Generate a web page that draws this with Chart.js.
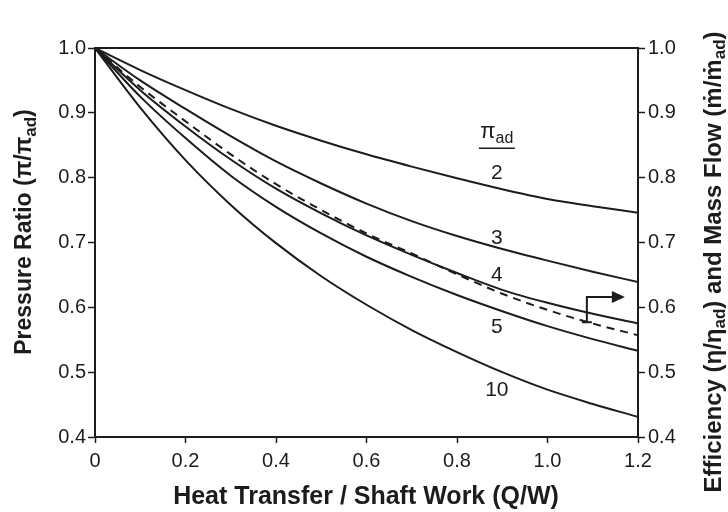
<!DOCTYPE html>
<html>
<head>
<meta charset="utf-8">
<script src="https://cdn.jsdelivr.net/npm/chart.js@4"></script>
<style>
  html, body { margin: 0; padding: 0; background: #fff; }
  #wrap { width: 728px; height: 512px; position: relative; }
</style>
</head>
<body>
<div id="wrap"><canvas id="heatChart"></canvas></div>
<script>
// Q/W values along the x axis
const qw = [0, 0.1, 0.2, 0.3, 0.4, 0.5, 0.6, 0.7, 0.8, 0.9, 1.0, 1.1, 1.2];

// pressure ratio pi/pi_ad for each adiabatic pressure ratio
const pr2  = [1.0, 0.966, 0.935, 0.906, 0.880, 0.857, 0.836, 0.817, 0.799, 0.782, 0.767, 0.756, 0.746];
const pr3  = [1.0, 0.950, 0.906, 0.864, 0.825, 0.791, 0.760, 0.733, 0.710, 0.690, 0.672, 0.655, 0.639];
const pr4  = [1.0, 0.935, 0.879, 0.828, 0.783, 0.745, 0.711, 0.681, 0.653, 0.627, 0.607, 0.590, 0.575];
const pr5  = [1.0, 0.925, 0.861, 0.803, 0.755, 0.714, 0.678, 0.647, 0.619, 0.594, 0.571, 0.551, 0.533];
const pr10 = [1.0, 0.908, 0.827, 0.758, 0.699, 0.648, 0.604, 0.565, 0.531, 0.500, 0.473, 0.451, 0.431];

// efficiency and mass flow ratio (dashed, right axis)
const effFlow = [1.0, 0.940, 0.887, 0.836, 0.790, 0.750, 0.714, 0.683, 0.651, 0.621, 0.596, 0.575, 0.557];

const piLabels = ['2', '3', '4', '5', '10'];
const xTicks = [0, 0.2, 0.4, 0.6, 0.8, 1.0, 1.2];
const yTicks = [0.4, 0.5, 0.6, 0.7, 0.8, 0.9, 1.0];

const FONT = '"Liberation Sans", Arial, Helvetica, sans-serif';
const INK = '#1c1c1c';

function pts(ys) { return qw.map((x, i) => ({ x: x, y: ys[i] })); }

function curve(label, ys, axis, dash) {
  return {
    label: label, data: pts(ys), yAxisID: axis,
    borderColor: INK, borderWidth: 2, borderDash: dash || [],
    pointRadius: 0, cubicInterpolationMode: 'monotone', fill: false,
  };
}

// text with subscripts: parts = [[text, isSub], ...]
function richWidth(ctx, parts, size, bold) {
  let w = 0;
  parts.forEach(p => {
    ctx.font = (bold ? 'bold ' : '') + (p[1] ? Math.round(size * 0.72) : size) + 'px ' + FONT;
    w += ctx.measureText(p[0]).width;
  });
  return w;
}
function richDraw(ctx, parts, size, cx, cy, bold) {
  const w = richWidth(ctx, parts, size, bold);
  let x = cx - w / 2;
  ctx.textBaseline = 'middle';
  ctx.textAlign = 'left';
  parts.forEach(p => {
    const s = p[1] ? Math.round(size * 0.72) : size;
    ctx.font = (bold ? 'bold ' : '') + s + 'px ' + FONT;
    ctx.fillText(p[0], x, p[1] ? cy + size * 0.28 : cy);
    x += ctx.measureText(p[0]).width;
  });
}

const decorations = {
  id: 'decorations',
  afterDraw(chart) {
    const ctx = chart.ctx;
    const a = chart.chartArea;
    const xs = chart.scales.x, ys = chart.scales.y;
    ctx.save();
    ctx.fillStyle = INK;
    ctx.strokeStyle = INK;

    // top frame line
    ctx.lineWidth = 2;
    ctx.beginPath();
    ctx.moveTo(a.left, a.top);
    ctx.lineTo(a.right, a.top);
    ctx.stroke();

    // curve labels
    const lx = xs.getPixelForValue(0.888);
    const labelY = [0.807, 0.707, 0.650, 0.569, 0.472];
    ctx.font = '21px ' + FONT;
    ctx.textAlign = 'center';
    ctx.textBaseline = 'middle';
    piLabels.forEach((t, i) => ctx.fillText(t, lx, ys.getPixelForValue(labelY[i])));

    // pi_ad header with underline
    const hy = ys.getPixelForValue(0.870);
    richDraw(ctx, [['π', false], ['ad', true]], 22, lx, hy, false);
    ctx.lineWidth = 1.5;
    ctx.beginPath();
    ctx.moveTo(lx - 18, hy + 16);
    ctx.lineTo(lx + 18, hy + 16);
    ctx.stroke();

    // bent arrow pointing to the right axis
    const ax = xs.getPixelForValue(1.087);
    const ay0 = ys.getPixelForValue(0.577);
    const ay1 = ys.getPixelForValue(0.616);
    const tip = xs.getPixelForValue(1.171);
    ctx.lineWidth = 2;
    ctx.beginPath();
    ctx.moveTo(ax - 5, ay0); ctx.lineTo(ax + 5, ay0);
    ctx.moveTo(ax, ay0); ctx.lineTo(ax, ay1); ctx.lineTo(tip - 8, ay1);
    ctx.stroke();
    ctx.beginPath();
    ctx.moveTo(tip, ay1);
    ctx.lineTo(tip - 13, ay1 - 6);
    ctx.lineTo(tip - 13, ay1 + 6);
    ctx.closePath();
    ctx.fill();

    // axis titles
    richDraw(ctx, [['Heat Transfer / Shaft Work (Q/W)', false]], 25, 366, 497, true);

    ctx.save();
    ctx.translate(25, 232);
    ctx.rotate(-Math.PI / 2);
    richDraw(ctx, [['Pressure Ratio (π/π', false], ['ad', true], [')', false]], 23, 0, 0, true);
    ctx.restore();

    ctx.save();
    ctx.translate(714, 262);
    ctx.rotate(-Math.PI / 2);
    richDraw(ctx, [['Efficiency (η/η', false], ['ad', true], [') and Mass Flow (ṁ/ṁ', false], ['ad', true], [')', false]], 24, 0, 0, true);
    ctx.restore();

    ctx.restore();
  }
};

const tickFont = { family: FONT, size: 20 };
const yFmt = v => v.toFixed(1);

new Chart(document.getElementById('heatChart'), {
  type: 'line',
  data: {
    datasets: [
      curve('2', pr2, 'y'),
      curve('3', pr3, 'y'),
      curve('4', pr4, 'y'),
      curve('5', pr5, 'y'),
      curve('10', pr10, 'y'),
      curve('efficiency / mass flow', effFlow, 'y2', [8, 6]),
    ],
  },
  options: {
    responsive: true, maintainAspectRatio: false, animation: false,
    layout: { padding: { top: 48, left: 0, right: 0, bottom: 0 } },
    plugins: { legend: { display: false }, tooltip: { enabled: false } },
    scales: {
      x: {
        type: 'linear', min: 0, max: 1.2,
        afterBuildTicks: s => { s.ticks = xTicks.map(v => ({ value: v })); },
        afterFit: s => { s.height = 75; },
        border: { color: INK, width: 2 },
        grid: { drawOnChartArea: false, color: INK, tickLength: 6, tickWidth: 1.5 },
        ticks: { color: INK, font: tickFont, padding: 6, callback: v => v === 0 ? '0' : v.toFixed(1) },
      },
      y: {
        type: 'linear', position: 'left', min: 0.4, max: 1.0,
        afterBuildTicks: s => { s.ticks = yTicks.map(v => ({ value: v })); },
        afterFit: s => { s.width = 95; },
        border: { color: INK, width: 2 },
        grid: { drawOnChartArea: false, color: INK, tickLength: 7, tickWidth: 1.5 },
        ticks: { color: INK, font: tickFont, padding: 2, callback: yFmt },
      },
      y2: {
        type: 'linear', position: 'right', min: 0.4, max: 1.0,
        afterBuildTicks: s => { s.ticks = yTicks.map(v => ({ value: v })); },
        afterFit: s => { s.width = 90; },
        border: { color: INK, width: 2 },
        grid: { drawOnChartArea: false, color: INK, tickLength: 7, tickWidth: 1.5 },
        ticks: { color: INK, font: tickFont, padding: 3, callback: yFmt },
      },
    },
  },
  plugins: [decorations],
});
</script>
</body>
</html>
